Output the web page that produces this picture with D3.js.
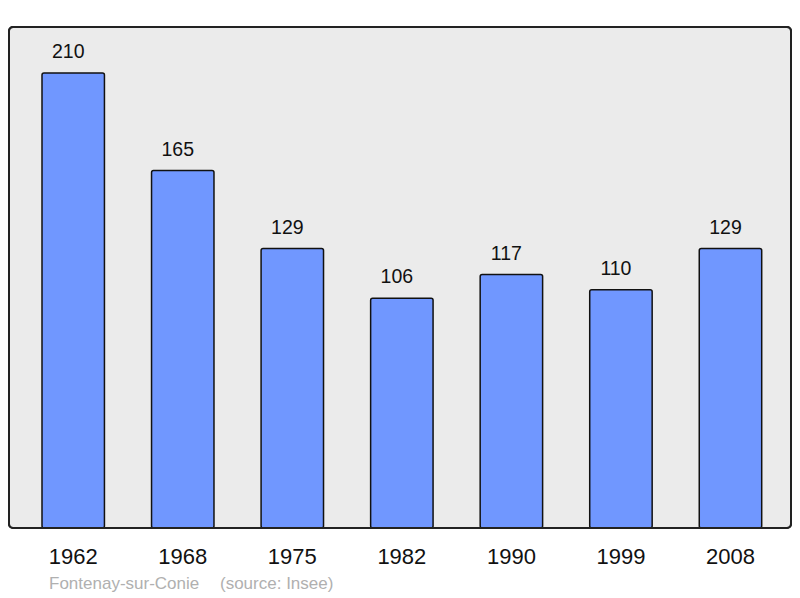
<!DOCTYPE html>
<html><head><meta charset="utf-8">
<script src="https://cdn.jsdelivr.net/npm/d3@7"></script>
<style>body{margin:0;background:#fff}svg{display:block}</style>
</head><body>
<script>
const years = ["1962","1968","1975","1982","1990","1999","2008"];
const population = [210,165,129,106,117,110,129];
const place = "Fontenay-sur-Conie";
const source = "(source: Insee)";

const W = 800, H = 598;
const svg = d3.select("body").append("svg").attr("width", W).attr("height", H);
const font = "'Liberation Sans', Arial, sans-serif";

const frame = {x0: 9, x1: 791, y0: 27, y1: 528};
svg.append("rect").attr("x", frame.x0).attr("y", frame.y0)
  .attr("width", frame.x1 - frame.x0).attr("height", frame.y1 - frame.y0)
  .attr("rx", 4).attr("fill", "#ebebeb").attr("stroke", "#222").attr("stroke-width", 2);

const x = d3.scaleBand().domain(years).range([42, 761.7]).paddingInner(0.43).paddingOuter(0);
const y = d3.scaleLinear().domain([0, 231]).range([528, 27.5]);

const data = years.map((yr, i) => ({yr, v: population[i]}));

svg.selectAll("rect.bar").data(data).join("rect").attr("class", "bar")
  .attr("x", d => x(d.yr)).attr("y", d => y(d.v))
  .attr("width", x.bandwidth()).attr("height", d => y(0) - y(d.v))
  .attr("rx", 2)
  .attr("fill", "#7097ff").attr("stroke", "#111").attr("stroke-width", 1.5);

svg.selectAll("text.val").data(data).join("text").attr("class", "val")
  .attr("x", d => x(d.yr) + x.bandwidth() / 2 - 5).attr("y", d => y(d.v) - 15)
  .attr("text-anchor", "middle").attr("font-family", font).attr("font-size", 19.5)
  .attr("fill", "#111").text(d => d.v);

svg.append("rect").attr("x", frame.x0).attr("y", frame.y0)
  .attr("width", frame.x1 - frame.x0).attr("height", frame.y1 - frame.y0)
  .attr("rx", 4).attr("fill", "none").attr("stroke", "#222").attr("stroke-width", 2);

const xAxis = d3.axisBottom(x).tickSize(0).tickPadding(0);
const ax = svg.append("g").attr("transform", `translate(0,${frame.y1})`).call(xAxis);
ax.select(".domain").remove();
ax.selectAll("text").attr("font-family", font).attr("font-size", 22).attr("fill", "#111")
  .attr("dy", null).attr("y", 36);

svg.append("text").attr("x", 49).attr("y", 589).attr("font-family", font)
  .attr("font-size", 17).attr("fill", "#b0b0b0").text(place);
svg.append("text").attr("x", 220).attr("y", 589).attr("font-family", font)
  .attr("font-size", 17).attr("fill", "#b0b0b0").text(source);
</script>
</body></html>
